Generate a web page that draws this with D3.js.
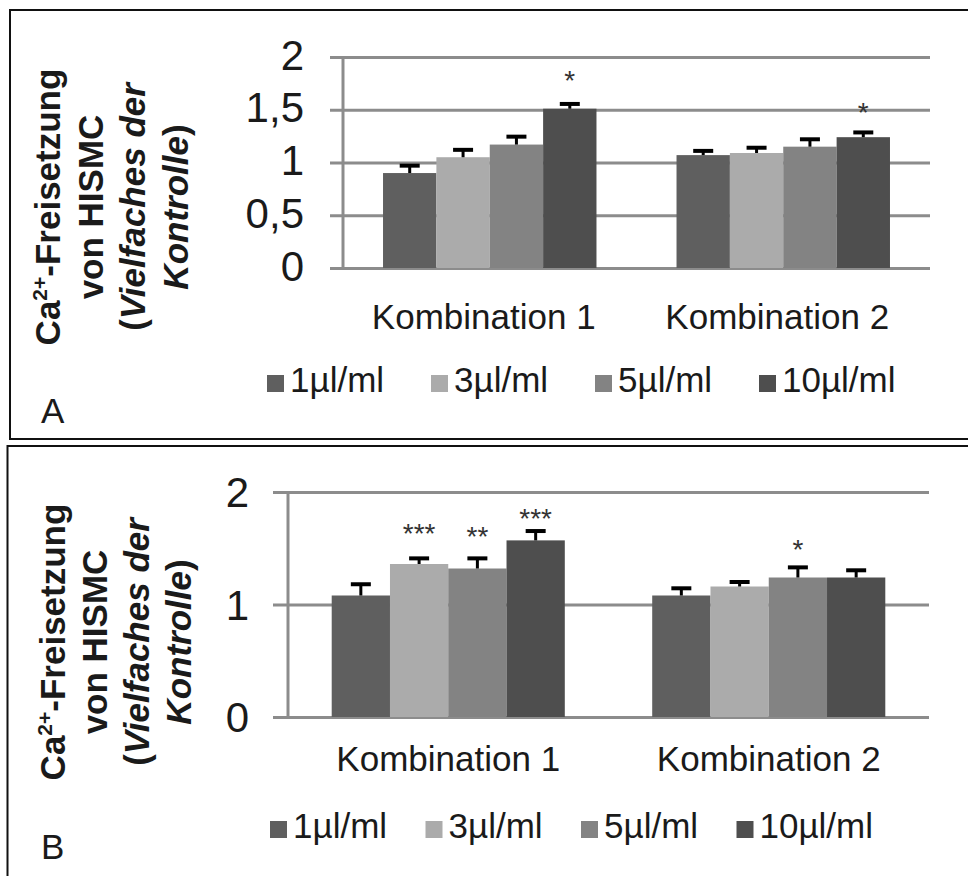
<!DOCTYPE html>
<html><head><meta charset="utf-8">
<script src="https://cdn.jsdelivr.net/npm/d3@7"></script>
<style>
body{margin:0;background:#fff}
svg{display:block}
text{font-family:"Liberation Sans",Arial,Helvetica,sans-serif;fill:#1a1a1a}
</style>
</head><body>
<svg id="c" width="968" height="876"></svg>
<script>
// ---------- data ----------
const categories = ["Kombination 1", "Kombination 2"];
const series = ["1µl/ml", "3µl/ml", "5µl/ml", "10µl/ml"];
const seriesColors = ["#5f5f5f", "#ababab", "#838383", "#4e4e4e"];

// Panel A
const valuesA = [[0.90, 1.05, 1.17, 1.51], [1.07, 1.09, 1.15, 1.24]];
const errorsA = [[0.07, 0.07, 0.075, 0.045], [0.04, 0.05, 0.07, 0.045]];
const starsA = [["", "", "", "*"], ["", "", "", "*"]];
const starLevelA = [[0, 0, 0, 1.83], [0, 0, 0, 1.53]];
const ticksA = [0, 0.5, 1, 1.5, 2];
const tickLabelsA = ["0", "0,5", "1", "1,5", "2"];

// Panel B
const valuesB = [[1.08, 1.36, 1.32, 1.57], [1.08, 1.16, 1.24, 1.24]];
const errorsB = [[0.10, 0.05, 0.09, 0.083], [0.064, 0.04, 0.09, 0.064]];
const starsB = [["", "***", "**", "***"], ["", "", "*", ""]];
const starLevelB = [[0, 1.68, 1.66, 1.82], [0, 0, 1.54, 0]];
const ticksB = [0, 1, 2];
const tickLabelsB = ["0", "1", "2"];

const yMax = 2;

// ---------- drawing ----------
const svg = d3.select("#c");

function drawPanel(cfg) {
  const g = svg.append("g");

  // frame
  g.append("rect")
    .attr("x", cfg.frame[0]).attr("y", cfg.frame[1])
    .attr("width", cfg.frame[2]).attr("height", cfg.frame[3])
    .attr("fill", "none").attr("stroke", "#111").attr("stroke-width", 2);

  const x0 = d3.scaleBand().domain(categories)
    .range([cfg.left, cfg.right])
    .paddingInner(1.5 / 5.5).paddingOuter(0.75 / 5.5);
  const x1 = d3.scaleBand().domain(series).range([0, x0.bandwidth()]);
  const y = d3.scaleLinear().domain([0, yMax]).range([cfg.bottom, cfg.top]);

  // gridlines
  const grid = g.append("g")
    .attr("transform", `translate(${cfg.tickStart},0)`)
    .call(d3.axisLeft(y).tickValues(cfg.ticks).tickFormat("")
      .tickSizeInner(-(cfg.right - cfg.tickStart)).tickSizeOuter(0));
  grid.select(".domain").remove();
  grid.selectAll(".tick line").attr("stroke", "#8c8c8c").attr("stroke-width", 3);

  // vertical axis line
  g.append("line")
    .attr("x1", cfg.left).attr("x2", cfg.left)
    .attr("y1", y(yMax)).attr("y2", y(0))
    .attr("stroke", "#8c8c8c").attr("stroke-width", 3);

  // tick labels
  g.selectAll("text.tick").data(cfg.ticks).join("text")
    .attr("class", "tick")
    .attr("x", cfg.tickLabelX).attr("y", d => y(d))
    .attr("dy", cfg.tickDy)
    .attr("text-anchor", "end")
    .style("font-size", "42px")
    .text((d, i) => cfg.tickLabels[i]);

  // bars
  const flat = [];
  categories.forEach((c, ci) => series.forEach((s, si) => {
    flat.push({c, s, si, v: cfg.values[ci][si], e: cfg.errors[ci][si],
               star: cfg.stars[ci][si], sl: cfg.starLevel[ci][si]});
  }));

  g.selectAll("rect.bar").data(flat).join("rect")
    .attr("class", "bar")
    .attr("x", d => x0(d.c) + x1(d.s))
    .attr("width", x1.bandwidth())
    .attr("y", d => y(d.v))
    .attr("height", d => y(0) - y(d.v))
    .attr("fill", d => seriesColors[d.si]);

  // error bars
  const cx = d => x0(d.c) + x1(d.s) + x1.bandwidth() / 2;
  g.selectAll("line.stem").data(flat).join("line")
    .attr("class", "stem")
    .attr("x1", cx).attr("x2", cx)
    .attr("y1", d => y(d.v)).attr("y2", d => y(d.v + d.e))
    .attr("stroke", "#000").attr("stroke-width", 3);
  g.selectAll("line.cap").data(flat).join("line")
    .attr("class", "cap")
    .attr("x1", d => cx(d) - 10).attr("x2", d => cx(d) + 10)
    .attr("y1", d => y(d.v + d.e)).attr("y2", d => y(d.v + d.e))
    .attr("stroke", "#000").attr("stroke-width", 4);

  // significance stars
  g.selectAll("text.star").data(flat.filter(d => d.star)).join("text")
    .attr("class", "star")
    .attr("x", cx).attr("y", d => y(d.sl))
    .attr("dy", "0.55em")
    .attr("text-anchor", "middle")
    .style("font-size", "28px").style("fill", "#333")
    .text(d => d.star);

  // category labels
  g.selectAll("text.cat").data(categories).join("text")
    .attr("class", "cat")
    .attr("x", d => x0(d) + x0.bandwidth() / 2 + cfg.catOffset)
    .attr("y", cfg.catLabelY)
    .attr("text-anchor", "middle")
    .style("font-size", "35px")
    .text(d => d);

  // legend
  const lg = g.selectAll("g.leg").data(series).join("g")
    .attr("class", "leg")
    .attr("transform", (d, i) => `translate(${cfg.legendX + i * cfg.legendStep},${cfg.legendY})`);
  lg.append("rect").attr("x", 0).attr("y", -17).attr("width", 17).attr("height", 17)
    .attr("fill", (d, i) => seriesColors[i]);
  lg.append("text").attr("x", 23).attr("y", 0)
    .style("font-size", "35px").text(d => d);

  // y-axis title (rotated, 4 lines)
  const lines = [
    [{t: "Ca", i: false}, {t: "2+", i: false, sup: true}, {t: "-Freisetzung", i: false, after: true}],
    [{t: "von HISMC", i: false}],
    [{t: "(", i: false}, {t: "Vielfaches der", i: true}],
    [{t: "Kontrolle", i: true}, {t: ")", i: false}]
  ];
  lines.forEach((parts, li) => {
    const bx = cfg.titleX0 + li * cfg.titleStep;
    const t = g.append("text")
      .attr("transform", `translate(${bx},${cfg.titleY}) rotate(-90)`)
      .attr("text-anchor", "middle")
      .style("font-size", "35px").style("font-weight", "bold");
    parts.forEach(p => {
      const ts = t.append("tspan").text(p.t)
        .style("font-style", p.i ? "italic" : "normal");
      if (p.sup) ts.style("font-size", "21px").attr("dy", "-13");
      else if (p.after) ts.attr("dy", "13");
    });
  });

  // panel letter
  g.append("text").attr("x", cfg.letterX).attr("y", cfg.letterY)
    .style("font-size", "35px").text(cfg.letter);
}

drawPanel({
  frame: [10, 10, 990, 429],
  left: 343, right: 930, top: 57, bottom: 268, tickStart: 330,
  ticks: ticksA, tickLabels: tickLabelsA, tickLabelX: 304, tickDy: "0.3em",
  values: valuesA, errors: errorsA, stars: starsA, starLevel: starLevelA,
  catLabelY: 329, catOffset: -6,
  legendX: 267, legendStep: 164, legendY: 392,
  titleX0: 60, titleStep: 42.5, titleY: 207,
  letter: "A", letterX: 41, letterY: 423
});

drawPanel({
  frame: [7.5, 446, 990, 500],
  left: 288, right: 929, top: 492, bottom: 717, tickStart: 273,
  ticks: ticksB, tickLabels: tickLabelsB, tickLabelX: 249, tickDy: "0.36em",
  values: valuesB, errors: errorsB, stars: starsB, starLevel: starLevelB,
  catLabelY: 771, catOffset: 0,
  legendX: 270, legendStep: 155.5, legendY: 838,
  titleX0: 65, titleStep: 42, titleY: 642,
  letter: "B", letterX: 41, letterY: 859
});
</script>
</body></html>
